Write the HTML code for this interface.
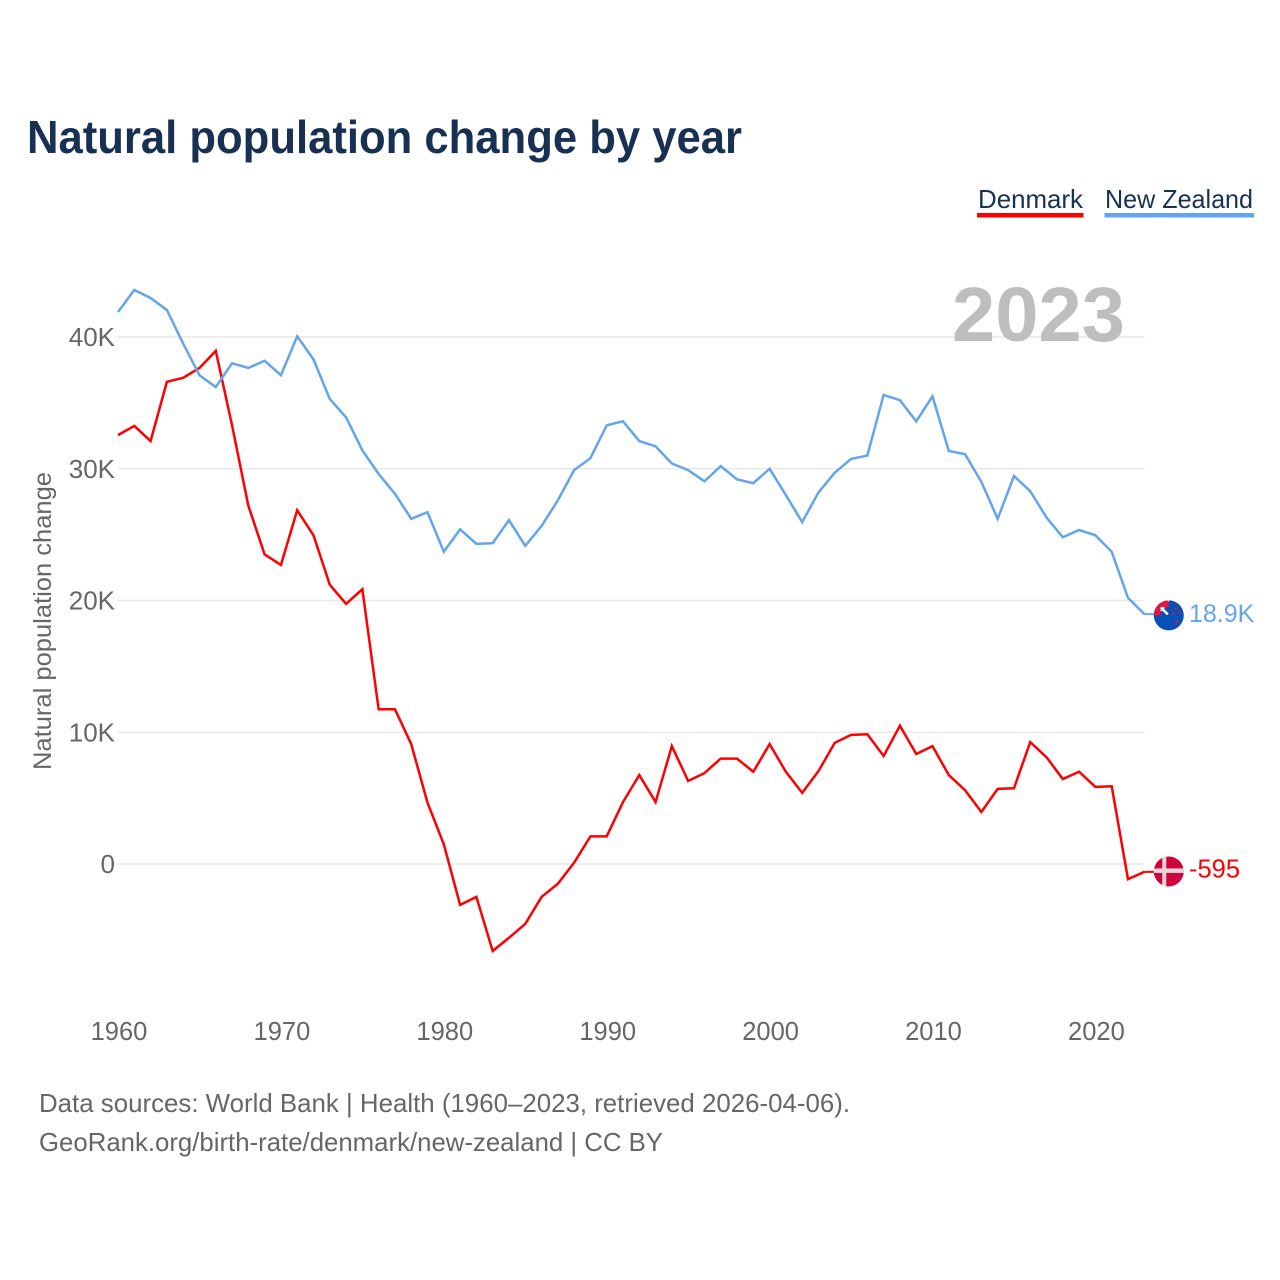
<!DOCTYPE html>
<html lang="en">
<head>
<meta charset="utf-8">
<title>Natural population change by year</title>
<style>
html,body{margin:0;padding:0;background:#fff;}
svg{display:block;}
text{font-family:"Liberation Sans",sans-serif;}
</style>
</head>
<body>
<svg id="chart" xmlns="http://www.w3.org/2000/svg" width="1280" height="1280" viewBox="0 0 1280 1280">
  <rect width="1280" height="1280" fill="#fff"/>
  <defs>
    <clipPath id="clip-nz"><circle id="clip-nz-c" r="15"/></clipPath>
    <clipPath id="clip-dk"><circle id="clip-dk-c" r="15"/></clipPath>
  </defs>
  <text x="27" y="153" font-size="46" font-weight="700" fill="#183153" textLength="715" lengthAdjust="spacingAndGlyphs">Natural population change by year</text>

  <g>
    <text x="978" y="208" font-size="26" fill="#183153" textLength="105" lengthAdjust="spacingAndGlyphs">Denmark</text>
    <rect x="977" y="213" width="106.500" height="4.500" fill="#ff0000"/>
  </g>
  <g>
    <text x="1105" y="208" font-size="26" fill="#183153" textLength="148" lengthAdjust="spacingAndGlyphs">New Zealand</text>
    <rect x="1104.500" y="213" width="149.500" height="4.500" fill="#62a5ec"/>
  </g>

  <g id="grid"></g>
  <g id="yticks"></g>
  <g id="xticks"></g>

  <text transform="translate(51 621) rotate(-90)" text-anchor="middle" font-size="25" fill="#666" textLength="298" lengthAdjust="spacingAndGlyphs">Natural population change</text>
  <text x="952" y="341" font-size="77" font-weight="700" fill="#bebebe" textLength="173" lengthAdjust="spacingAndGlyphs">2023</text>

  <g id="series"></g>

  <g id="flag-dk" clip-path="url(#clip-dk)"></g>
  <g id="flag-nz" clip-path="url(#clip-nz)"></g>
  <g id="endlabels"></g>

  <text x="39" y="1112" font-size="26" fill="#666" textLength="811" lengthAdjust="spacingAndGlyphs">Data sources: World Bank | Health (1960–2023, retrieved 2026-04-06).</text>
  <text x="39" y="1151" font-size="26" fill="#666" textLength="624" lengthAdjust="spacingAndGlyphs">GeoRank.org/birth-rate/denmark/new-zealand | CC BY</text>
</svg>
<script>
const startYear = 1960;
const denmarkValues = [32.55,33.25,32.1,36.6,36.9,37.65,38.95,33.3,27.2,23.5,22.7,26.85,24.95,21.2,19.75,20.85,11.75,11.75,9.1,4.65,1.5,-3.1,-2.5,-6.6,-5.6,-4.55,-2.5,-1.5,0.1,2.1,2.1,4.7,6.75,4.7,8.95,6.3,6.9,8.0,8.0,7.0,9.1,7.0,5.4,7.05,9.2,9.8,9.85,8.2,10.5,8.35,8.95,6.75,5.6,3.95,5.7,5.75,9.25,8.1,6.45,7.0,5.85,5.9,-1.15,-0.595];
const newZealandValues = [41.9,43.57,42.96,42.05,39.5,37.1,36.2,38.0,37.65,38.2,37.1,40.05,38.3,35.3,33.9,31.4,29.6,28.1,26.2,26.7,23.7,25.4,24.3,24.35,26.1,24.15,25.65,27.6,29.9,30.8,33.3,33.6,32.1,31.7,30.4,29.9,29.05,30.2,29.2,28.9,30.0,28.0,25.95,28.2,29.7,30.75,31.0,35.6,35.2,33.6,35.5,31.35,31.1,29.0,26.2,29.45,28.3,26.3,24.8,25.35,24.95,23.7,20.2,18.97];
const yTickValues = [0,10,20,30,40];
const yTickLabels = ["0","10K","20K","30K","40K"];
const xTickYears = [1960,1970,1980,1990,2000,2010,2020];
const denmarkEndLabel = "-595";
const newZealandEndLabel = "18.9K";

const NS = "http://www.w3.org/2000/svg";
const xScale = function (year) { return 118 + (year - 1960) * 16.29; };
const yScale = function (value) { return 864 - value * 13.175; };

function make(tag, parent, attrs, text) {
  const el = document.createElementNS(NS, tag);
  for (const k in attrs) el.setAttribute(k, attrs[k]);
  if (text !== undefined) el.textContent = text;
  parent.appendChild(el);
  return el;
}

const gridGroup = document.getElementById("grid");
const yGroup = document.getElementById("yticks");
const xGroup = document.getElementById("xticks");
const seriesGroup = document.getElementById("series");
const labelGroup = document.getElementById("endlabels");
const lastYear = startYear + denmarkValues.length - 1;

yTickValues.forEach(function (v, i) {
  const line = make("line", gridGroup, {x1: 118, x2: xScale(lastYear), y1: yScale(v), y2: yScale(v), stroke: "#e9e9e9", "stroke-width": 1.5});
  
  
  const label = make("text", yGroup, {x: 115, y: yScale(v) + 9, "text-anchor": "end", "font-size": 26, fill: "#666"}, yTickLabels[i]);
  
  
});

xTickYears.forEach(function (year) {
  const label = make("text", xGroup, {x: xScale(year) + 1, y: 1040, "text-anchor": "middle", "font-size": 25.5, fill: "#666"}, String(year));
  
  
});

function buildPoints(values) {
  return values.map(function (v, i) {
    return xScale(startYear + i).toFixed(2) + "," + yScale(v).toFixed(2);
  }).join(" ");
}

const dkLine = make("polyline", seriesGroup, {points: buildPoints(denmarkValues), fill: "none", stroke: "#ff0000", "stroke-width": 2.5, "stroke-linejoin": "miter"});



const nzLine = make("polyline", seriesGroup, {points: buildPoints(newZealandValues), fill: "none", stroke: "#62a5ec", "stroke-width": 2.5, "stroke-linejoin": "miter"});



const dkLast = denmarkValues[denmarkValues.length - 1];
const nzLast = newZealandValues[newZealandValues.length - 1];
const flagX = xScale(lastYear) + 24.5;
const dkY = yScale(dkLast) - 0.4;
const nzY = yScale(nzLast) + 1.3;

const dkConnector = make("line", seriesGroup, {x1: xScale(lastYear), x2: flagX, y1: yScale(dkLast), y2: yScale(dkLast), stroke: "#ff0000", "stroke-width": 2});



const nzConnector = make("line", seriesGroup, {x1: xScale(lastYear), x2: flagX, y1: yScale(nzLast), y2: yScale(nzLast), stroke: "#62a5ec", "stroke-width": 2});



const clipDk = document.getElementById("clip-dk-c");
clipDk.setAttribute("cx", flagX);
clipDk.setAttribute("cy", dkY);
const clipNz = document.getElementById("clip-nz-c");
clipNz.setAttribute("cx", flagX);
clipNz.setAttribute("cy", nzY);

const dkFlag = document.getElementById("flag-dk");
make("rect", dkFlag, {x: flagX - 16, y: dkY - 16, width: 32, height: 32, fill: "#d0043c"});
make("rect", dkFlag, {x: flagX - 16, y: dkY - 3, width: 32, height: 4.5, fill: "#ecd5da"});
make("rect", dkFlag, {x: flagX - 6.5, y: dkY - 16, width: 4, height: 32, fill: "#ecd5da"});

const nzFlag = document.getElementById("flag-nz");
make("rect", nzFlag, {x: flagX - 16, y: nzY - 16, width: 32, height: 32, fill: "#0a4fb4"});
make("rect", nzFlag, {x: flagX - 16, y: nzY - 16, width: 16, height: 16, fill: "#e0173f"});
make("rect", nzFlag, {x: flagX - 1, y: nzY - 16, width: 1.2, height: 2, fill: "#fff"});
make("rect", nzFlag, {x: flagX - 8, y: nzY - 8, width: 8, height: 8, fill: "#0a4fb4"});
make("line", nzFlag, {x1: flagX - 8, y1: nzY - 8, x2: flagX - 1, y2: nzY - 1, stroke: "#fff", "stroke-width": 2.4});
make("line", nzFlag, {x1: flagX - 8, y1: nzY - 4.5, x2: flagX - 4.5, y2: nzY - 8, stroke: "#fff", "stroke-width": 1.6});
make("circle", nzFlag, {cx: flagX + 7, cy: nzY - 7, r: 1.2, fill: "#e0173f"});
make("circle", nzFlag, {cx: flagX + 11, cy: nzY - 3, r: 1.1, fill: "#e0173f"});
make("circle", nzFlag, {cx: flagX + 4, cy: nzY - 2, r: 1.1, fill: "#e0173f"});
make("circle", nzFlag, {cx: flagX + 7.500, cy: nzY + 6, r: 1.3, fill: "#e0173f"});

const dkLabel = make("text", labelGroup, {x: 1189, y: yScale(dkLast) + 5.5, "font-size": 25.5, fill: "#ff0000"}, denmarkEndLabel);



const nzLabel = make("text", labelGroup, {x: 1189, y: yScale(nzLast) + 8, "font-size": 25, fill: "#62a5ec"}, newZealandEndLabel);


</script>
</body>
</html>
